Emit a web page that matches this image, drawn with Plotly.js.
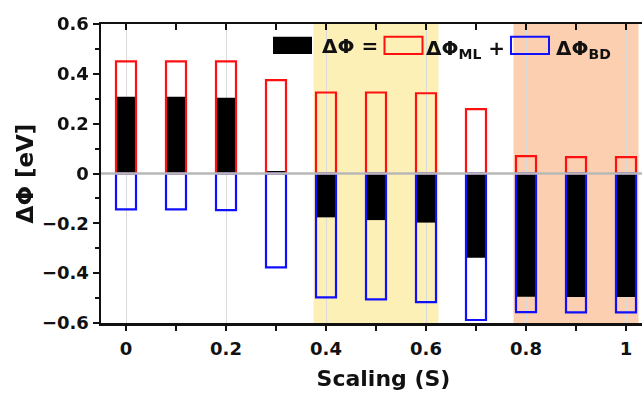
<!DOCTYPE html>
<html>
<head>
<meta charset="utf-8">
<script src="https://cdn.plot.ly/plotly-3.0.1.min.js"></script>
<style>
  html, body { margin: 0; padding: 0; background: #fff; overflow: hidden; width: 642px; height: 394px; }
  #chart { width: 666px; height: 394px; }
</style>
</head>
<body>
<div id="chart"></div>
<script>
// Work-function change vs. scaling factor, split into its two contributions
const scaling = [0, 0.1, 0.2, 0.3, 0.4, 0.5, 0.6, 0.7, 0.8, 0.9, 1.0];
const dPhi    = [0.308, 0.308, 0.304, 0.01, -0.176, -0.187, -0.197, -0.338, -0.495, -0.496, -0.496];
const dPhiML  = [0.45, 0.45, 0.45, 0.375, 0.325, 0.325, 0.322, 0.258, 0.07, 0.066, 0.066];
const dPhiBD  = [-0.144, -0.144, -0.147, -0.377, -0.497, -0.505, -0.516, -0.588, -0.556, -0.557, -0.557];

// shaded scaling windows
const bandYellow = [0.375, 0.625];
const bandSalmon = [0.775, 1.025];

const xTickVals = [0, 0.2, 0.4, 0.6, 0.8, 1.0];
const xTickText = ['0', '0.2', '0.4', '0.6', '0.8', '1'];

const FONT = 'DejaVu Sans, Open Sans, sans-serif';
const INK = '#111';
const BAR_W = 0.04;
const X_RANGE = [-0.05, 1.08];

const traces = [
  {
    type: 'bar', x: scaling, y: dPhi, width: BAR_W,
    marker: { color: '#000', line: { width: 0 } },
    hoverinfo: 'skip', showlegend: false
  },
  {
    type: 'bar', x: scaling, y: dPhiML, width: BAR_W,
    marker: { color: 'rgba(0,0,0,0)', line: { color: '#ff1010', width: 2.2 } },
    hoverinfo: 'skip', showlegend: false
  },
  {
    type: 'bar', x: scaling, y: dPhiBD, width: BAR_W,
    marker: { color: 'rgba(0,0,0,0)', line: { color: '#1010ff', width: 2.2 } },
    hoverinfo: 'skip', showlegend: false
  },
  // carrier for the mirrored top axis
  {
    type: 'scatter', mode: 'markers', x: scaling, y: dPhiML,
    xaxis: 'x2', yaxis: 'y', opacity: 0, hoverinfo: 'skip', showlegend: false
  }
];

// legend key placement (paper coordinates, plot area is 565 px wide)
const px = v => (v - 101) / 565;
const keyY0 = 0.900, keyY1 = 0.957, keyYc = 0.928;

const layout = {
  width: 666, height: 394,
  margin: { l: 101, r: 0, t: 24, b: 71, pad: 0 },
  paper_bgcolor: '#fff', plot_bgcolor: '#fff',
  barmode: 'overlay',
  showlegend: false,
  font: { family: FONT, color: INK },
  xaxis: {
    range: X_RANGE,
    tickvals: xTickVals, ticktext: xTickText,
    ticks: 'outside', ticklen: 5, tickwidth: 2, tickcolor: INK,
    ticklabelstandoff: 3,
    minor: { dtick: 0.1, tick0: 0, ticks: 'outside', ticklen: 5, tickwidth: 2, tickcolor: INK, showgrid: false },
    showline: true, linewidth: 2.5, linecolor: INK,
    showgrid: true, gridcolor: '#dadada', gridwidth: 1,
    zeroline: false,
    tickfont: { family: FONT, size: 18, weight: 'bold', color: INK },
    title: { text: 'Scaling (S)', font: { family: FONT, size: 22, weight: 'bold', color: INK }, standoff: 13 }
  },
  xaxis2: {
    overlaying: 'x', side: 'top', anchor: 'y', matches: 'x',
    range: X_RANGE,
    dtick: 0.1, tick0: 0,
    ticks: 'inside', ticklen: 6, tickwidth: 2, tickcolor: INK,
    showticklabels: false, showgrid: false, zeroline: false,
    showline: true, linewidth: 2.5, linecolor: INK
  },
  yaxis: {
    range: [-0.6, 0.6],
    dtick: 0.2, tick0: 0,
    ticks: 'outside', ticklen: 6, tickwidth: 2, tickcolor: INK,
    minor: { dtick: 0.1, tick0: 0, ticks: 'outside', ticklen: 4, tickwidth: 2, tickcolor: INK, showgrid: false },
    showline: true, linewidth: 2.5, linecolor: INK,
    showgrid: false, zeroline: false,
    tickfont: { family: FONT, size: 18, weight: 'bold', color: INK },
    title: { text: 'ΔΦ [eV]', font: { family: FONT, size: 23, weight: 'bold', color: INK }, standoff: 2 }
  },
  shapes: [
    { type: 'rect', layer: 'below', xref: 'x', yref: 'paper',
      x0: bandYellow[0], x1: bandYellow[1], y0: 0, y1: 1,
      fillcolor: '#fdf0b6', line: { width: 0 } },
    { type: 'rect', layer: 'below', xref: 'x', yref: 'paper',
      x0: bandSalmon[0], x1: bandSalmon[1], y0: 0, y1: 1,
      fillcolor: '#fccfb0', line: { width: 0 } },
    // zero reference line
    { type: 'line', layer: 'above', xref: 'paper', yref: 'y',
      x0: 0, x1: 1, y0: 0, y1: 0,
      line: { color: '#b8b8b8', width: 2.5 } },
    // legend keys
    { type: 'rect', layer: 'above', xref: 'paper', yref: 'paper',
      x0: px(273), x1: px(312), y0: keyY0, y1: keyY1,
      fillcolor: '#000', line: { width: 0 } },
    { type: 'rect', layer: 'above', xref: 'paper', yref: 'paper',
      x0: px(384.5), x1: px(422.5), y0: keyY0, y1: keyY1,
      fillcolor: 'rgba(0,0,0,0)', line: { color: '#ff1010', width: 2 } },
    { type: 'rect', layer: 'above', xref: 'paper', yref: 'paper',
      x0: px(511), x1: px(549), y0: keyY0, y1: keyY1,
      fillcolor: 'rgba(0,0,0,0)', line: { color: '#1010ff', width: 2 } }
  ],
  annotations: [
    { xref: 'paper', yref: 'paper', x: px(320), y: keyYc, xanchor: 'left', yanchor: 'middle',
      text: 'ΔΦ =', showarrow: false,
      font: { family: FONT, size: 20, weight: 'bold', color: INK } },
    { xref: 'paper', yref: 'paper', x: px(424), y: keyYc - 0.012, xanchor: 'left', yanchor: 'middle',
      text: 'ΔΦ<sub>ML</sub> +', showarrow: false,
      font: { family: FONT, size: 20, weight: 'bold', color: INK } },
    { xref: 'paper', yref: 'paper', x: px(554), y: keyYc - 0.012, xanchor: 'left', yanchor: 'middle',
      text: 'ΔΦ<sub>BD</sub>', showarrow: false,
      font: { family: FONT, size: 20, weight: 'bold', color: INK } }
  ]
};

Plotly.newPlot('chart', traces, layout, { staticPlot: true, displayModeBar: false });
</script>
</body>
</html>
